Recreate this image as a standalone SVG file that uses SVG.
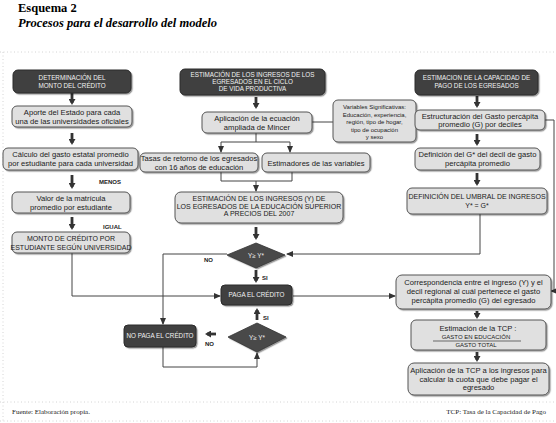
<svg xmlns="http://www.w3.org/2000/svg" width="556" height="423" viewBox="0 0 556 423">
<defs>
<style>
.lb{fill:#e0e0e0;stroke:#555;stroke-width:1;filter:url(#sh)}
.db{fill:#3f3f3f;stroke:#2a2a2a;stroke-width:1;filter:url(#sh)}
.dm{fill:#4a4a4a;stroke:#333;stroke-width:0.8;filter:url(#sh)}
.t{font-family:"Liberation Sans",Arial,sans-serif;font-size:7.6px;fill:#1a1a1a;text-anchor:middle}
.tw{font-family:"Liberation Sans",Arial,sans-serif;font-size:6.3px;fill:#f2f2f2;text-anchor:middle}
.tu{font-family:"Liberation Sans",Arial,sans-serif;font-size:7px;fill:#1a1a1a;text-anchor:middle}
.ts{font-family:"Liberation Sans",Arial,sans-serif;font-size:6px;fill:#1a1a1a;text-anchor:middle}
.lab{font-family:"Liberation Sans",Arial,sans-serif;font-size:6px;font-weight:bold;fill:#222}
.ln{fill:none;stroke:#444;stroke-width:1}
.stub{fill:none;stroke:#333;stroke-width:2.8}
.dot{fill:none;stroke:#c9c9c9;stroke-width:0.8;stroke-dasharray:1 2.5}
.ft{font-family:"Liberation Serif","Times New Roman",serif;font-size:7px;fill:#222}
</style>
<filter id="sh" x="-10%" y="-10%" width="125%" height="135%">
<feDropShadow dx="1.2" dy="1.2" stdDeviation="0.5" flood-color="#000" flood-opacity="0.4"/>
</filter>
<marker id="ah" markerUnits="userSpaceOnUse" markerWidth="7" markerHeight="6" refX="6" refY="3" orient="auto">
<path d="M0,0 L7,3 L0,6 z" fill="#333"/>
</marker>
<marker id="bh" markerUnits="userSpaceOnUse" markerWidth="7" markerHeight="7" refX="4" refY="3.5" orient="auto">
<path d="M0,0 L6,3.5 L0,7 z" fill="#333"/>
</marker>
</defs>
<rect width="556" height="423" fill="#fff"/>
<g id="frame">
<line class="dot" x1="0" y1="52" x2="556" y2="52"/>
<line class="dot" x1="3" y1="52" x2="3" y2="421"/>
<line class="dot" x1="0" y1="402" x2="556" y2="402"/>
<line class="dot" x1="0" y1="421" x2="556" y2="421"/>
</g>
<g id="title">
<text x="18" y="12" font-family="Liberation Serif,serif" font-weight="bold" font-size="12.5" fill="#000">Esquema 2</text>
<text x="18" y="27" font-family="Liberation Serif,serif" font-weight="bold" font-style="italic" font-size="12.5" fill="#000">Procesos para el desarrollo del modelo</text>
</g>
<g id="connectors">
<path class="stub" d="M72,93 V103" marker-end="url(#bh)"/>
<path class="stub" d="M72,133 V143" marker-end="url(#bh)"/>
<path class="stub" d="M72,175 V187" marker-end="url(#bh)"/>
<path class="stub" d="M72,217 V228" marker-end="url(#bh)"/>
<path class="stub" d="M256,97 V107" marker-end="url(#bh)"/>
<path class="ln" d="M256,133 V142 M221,142 H290"/>
<path class="ln" d="M221,142 V152" marker-end="url(#ah)"/>
<path class="ln" d="M290,142 V152" marker-end="url(#ah)"/>
<path class="ln" d="M221,172 V181 H292 V172"/>
<path class="ln" d="M256,181 V191" marker-end="url(#ah)"/>
<path class="stub" d="M256,227 V238" marker-end="url(#bh)"/>
<path class="ln" d="M312,122 H333"/>
<path class="stub" d="M256,270 V281" marker-end="url(#bh)"/>
<path class="ln" d="M227,254 H163 V324" marker-end="url(#ah)"/>
<path class="ln" d="M72,253 V296 H220" marker-end="url(#ah)"/>
<path class="ln" d="M293,296 H395" marker-end="url(#ah)"/>
<path class="ln" d="M480,214 V254 H287" marker-end="url(#ah)"/>
<path class="ln" d="M545,120 H554 V291 H551" marker-end="url(#ah)"/>
<path class="stub" d="M257,320 V310" marker-end="url(#bh)"/>
<path class="stub" d="M216,334 H207" marker-end="url(#bh)"/>
<path class="ln" d="M163,347 V367 H257 V353" marker-end="url(#ah)"/>
<path class="stub" d="M477,96 V106" marker-end="url(#bh)"/>
<path class="stub" d="M477,134 V144" marker-end="url(#bh)"/>
<path class="stub" d="M477,173 V184" marker-end="url(#bh)"/>
<path class="stub" d="M477,311 V317" marker-end="url(#bh)"/>
<path class="stub" d="M477,352 V360" marker-end="url(#bh)"/>
<text class="lab" x="99" y="184">MENOS</text>
<text class="lab" x="103" y="229">IGUAL</text>
<text class="lab" x="262" y="280">SI</text>
<text class="lab" x="204" y="262">NO</text>
<text class="lab" x="263" y="320">SI</text>
<text class="lab" x="205" y="346">NO</text>
</g>
<g id="n-det"><rect class="db" x="13" y="70" width="118" height="23" rx="5"/>
<text class="tw" x="72" y="80">DETERMINACIÓN DEL</text><text class="tw" x="72" y="88">MONTO DEL CRÉDITO</text></g>
<g id="n-aporte"><rect class="lb" x="12" y="106" width="120" height="21" rx="5"/>
<text class="t" x="72" y="115">Aporte del Estado para cada</text><text class="t" x="72" y="124">una de las universidades oficiales</text></g>
<g id="n-calculo"><rect class="lb" x="3" y="148" width="135" height="22" rx="5"/>
<text class="t" x="70.5" y="157">Cálculo del gasto estatal promedio</text><text class="t" x="70.5" y="166">por estudiante para cada universidad</text></g>
<g id="n-valor"><rect class="lb" x="12" y="192" width="118" height="21" rx="5"/>
<text class="t" x="71" y="201">Valor de la matrícula</text><text class="t" x="71" y="210">promedio por estudiante</text></g>
<g id="n-monto"><rect class="lb" x="12" y="232" width="118" height="21" rx="5"/>
<text class="tu" x="71" y="241">MONTO DE CRÉDITO POR</text><text class="tu" x="71" y="250">ESTUDIANTE SEGÚN UNIVERSIDAD</text></g>
<g id="n-estim"><rect class="db" x="180" y="69" width="145" height="26" rx="5"/>
<text class="tw" x="252.5" y="77">ESTIMACIÓN DE LOS INGRESOS DE LOS</text><text class="tw" x="252.5" y="84">EGRESADOS EN EL CICLO</text><text class="tw" x="252.5" y="91">DE VIDA PRODUCTIVA</text></g>
<g id="n-mincer"><rect class="lb" x="202" y="112" width="110" height="21" rx="5"/>
<text class="t" x="257" y="121" font-size="8.4">Aplicación de la ecuación</text><text class="t" x="257" y="130" font-size="8.4">ampliada de Mincer</text></g>
<g id="n-vars"><rect class="lb" x="333" y="100" width="83" height="42" rx="5"/>
<text class="ts" x="374.5" y="109">Variables Significativas:</text><text class="ts" x="374.5" y="116.5">Educación, experiencia,</text><text class="ts" x="374.5" y="124">región, tipo de hogar,</text><text class="ts" x="374.5" y="131.5">tipo de ocupación</text><text class="ts" x="374.5" y="139">y sexo</text></g>
<g id="n-tasas"><rect class="lb" x="140" y="153" width="118" height="19" rx="5"/>
<text class="t" x="199" y="161">Tasas de retorno de los egresados</text><text class="t" x="199" y="169.5">con 16 años de educación</text></g>
<g id="n-estimadores"><rect class="lb" x="262" y="153" width="108" height="19" rx="5"/>
<text class="t" x="316" y="165.5">Estimadores de las variables</text></g>
<g id="n-ingresos"><rect class="lb" x="175" y="192" width="168" height="31" rx="6"/>
<text class="tu" x="259" y="201" font-size="7.4">ESTIMACIÓN DE LOS INGRESOS (Y) DE</text><text class="tu" x="259" y="208.5" font-size="7.4">LOS EGRESADOS DE LA EDUCACIÓN SUPERIOR</text><text class="tu" x="259" y="216" font-size="7.4">A PRECIOS DEL 2007</text></g>
<g id="n-dec1"><polygon class="dm" points="227,255 256,243 285,255 256,268"/>
<text class="tw" x="256" y="257.5">Y≥ Y*</text></g>
<g id="n-paga"><rect class="db" x="221" y="285" width="71" height="20" rx="4"/>
<text class="tw" x="256.5" y="297">PAGA EL CRÉDITO</text></g>
<g id="n-dec2"><polygon class="dm" points="228,337 257,323 286,337 257,352"/>
<text class="tw" x="257" y="339.5">Y≥ Y*</text></g>
<g id="n-nopaga"><rect class="db" x="124" y="325" width="72" height="22" rx="4"/>
<text class="tw" x="160" y="338">NO PAGA EL CRÉDITO</text></g>
<g id="n-capacidad"><rect class="db" x="415" y="70" width="123" height="25" rx="5"/>
<text class="tw" x="476.5" y="80">ESTIMACION DE LA CAPACIDAD DE</text><text class="tw" x="476.5" y="88">PAGO DE LOS EGRESADOS</text></g>
<g id="n-estruct"><rect class="lb" x="415" y="110" width="130" height="20" rx="5"/>
<text class="t" x="480" y="118.5">Estructuración del Gasto percápita</text><text class="t" x="480" y="127">promedio (G) por deciles</text></g>
<g id="n-defg"><rect class="lb" x="415" y="148" width="125" height="22" rx="5"/>
<text class="t" x="477.5" y="157">Definición del G* del decil de gasto</text><text class="t" x="477.5" y="166">percápita promedio</text></g>
<g id="n-umbral"><rect class="lb" x="407" y="188" width="140" height="26" rx="5"/>
<text class="tu" x="477" y="199" font-size="7.5">DEFINICIÓN DEL UMBRAL DE INGRESOS</text><text class="tu" x="477" y="208" font-size="7.5">Y* = G*</text></g>
<g id="n-corresp"><rect class="lb" x="396" y="275" width="155" height="34" rx="6"/>
<text class="t" x="473.5" y="285">Correspondencia entre el ingreso (Y) y el</text><text class="t" x="473.5" y="294">decil regional al cuál pertenece el gasto</text><text class="t" x="473.5" y="303">percápita promedio (G) del egresado</text></g>
<g id="n-tcp"><rect class="lb" x="411" y="320" width="135" height="30" rx="5"/>
<text class="t" x="478" y="331" font-size="8.2">Estimación de la TCP :</text>
<text class="ts" x="476" y="339" font-size="6.6">GASTO EN EDUCACIÓN</text>
<line x1="433" y1="341" x2="521" y2="341" stroke="#333" stroke-width="0.7"/>
<text class="ts" x="476" y="347" font-size="6.6">GASTO TOTAL</text></g>
<g id="n-aplic"><rect class="lb" x="408" y="363" width="141" height="32" rx="6"/>
<text class="t" x="478.5" y="373">Aplicación de la TCP a los ingresos para</text><text class="t" x="478.5" y="381.5">calcular la cuota que debe pagar el</text><text class="t" x="478.5" y="390">egresado</text></g>
<g id="footer">
<text class="ft" x="12" y="414">Fuente: Elaboración propia.</text>
<text class="ft" x="546" y="414" text-anchor="end">TCP: Tasa de la Capacidad de Pago</text>
</g>
</svg>
